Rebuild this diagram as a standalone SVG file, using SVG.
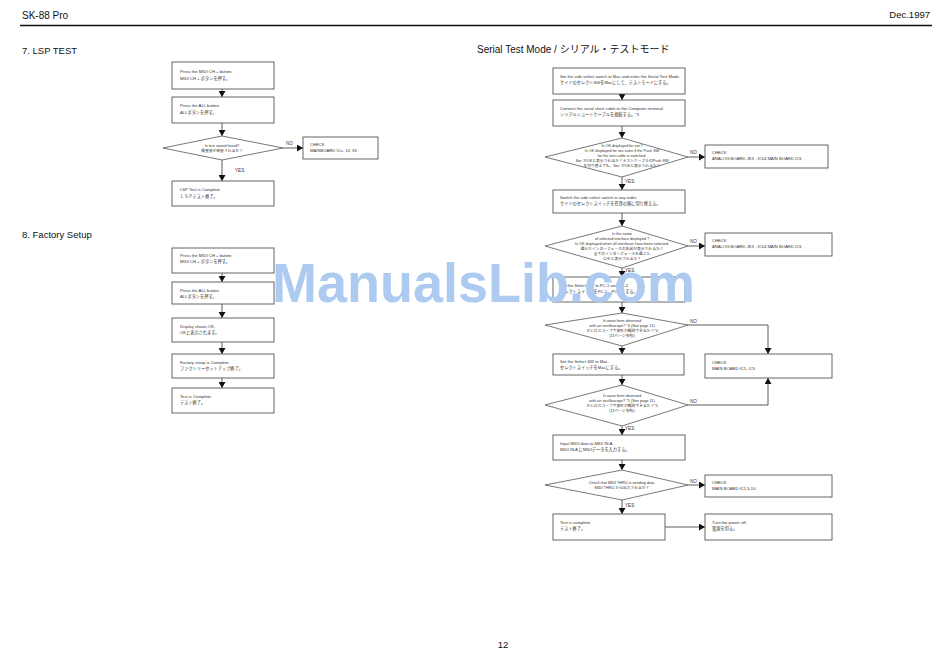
<svg xmlns="http://www.w3.org/2000/svg" width="950" height="671" viewBox="0 0 950 671">
<style>
.bg{fill:#fff}
.box{fill:#fff;stroke:#555;stroke-width:0.9}
.dia{fill:#fff;stroke:#555;stroke-width:0.8}
.t{font-family:"Liberation Sans","Noto Sans CJK JP",sans-serif;font-size:4.2px;fill:#333}
.d{font-family:"Liberation Sans","Noto Sans CJK JP",sans-serif;font-size:3.8px;fill:#333;text-anchor:middle}
.lbl{font-family:"Liberation Sans",sans-serif;font-size:4.6px;fill:#333}
.h{font-family:"Liberation Sans","Noto Sans CJK JP",sans-serif;fill:#111}
.ln{stroke:#333;stroke-width:0.8;fill:none}
.wm{font-family:"Liberation Sans",sans-serif;font-weight:bold;font-size:56px;fill:#adcaf0}
</style>
<defs>
<marker id="ah" markerUnits="userSpaceOnUse" markerWidth="7" markerHeight="7" refX="6" refY="3.5" orient="auto">
<path d="M0,0 L6,3.5 L0,7 z" fill="#111"/>
</marker>
</defs>
<rect class="bg" x="0" y="0" width="950" height="671"/>

<g id="header">
<text class="h" x="22" y="19" font-size="10">SK-88 Pro</text>
<text class="h" x="930" y="18" font-size="9.5" text-anchor="end">Dec.1997</text>
<line x1="20" y1="25.5" x2="932" y2="25.5" stroke="#111" stroke-width="1.6"/>
<text class="h" x="22" y="54" font-size="9.5">7. LSP TEST</text>
<text class="h" x="22" y="238" font-size="9.5">8. Factory Setup</text>
<text class="h" x="477" y="53" font-size="10">Serial Test Mode / シリアル・テストモード</text>
<text class="h" x="503" y="648" font-size="9.5" text-anchor="middle">12</text>
</g>

<g id="connectors">
<line class="ln" x1="222" y1="89" x2="222" y2="97" marker-end="url(#ah)"/>
<line class="ln" x1="222" y1="123" x2="222" y2="136" marker-end="url(#ah)"/>
<line class="ln" x1="283" y1="148" x2="303" y2="148" marker-end="url(#ah)"/>
<line class="ln" x1="222" y1="160" x2="222" y2="181" marker-end="url(#ah)"/>
<line class="ln" x1="222" y1="273" x2="222" y2="282" marker-end="url(#ah)"/>
<line class="ln" x1="222" y1="304" x2="222" y2="318" marker-end="url(#ah)"/>
<line class="ln" x1="222" y1="342" x2="222" y2="354" marker-end="url(#ah)"/>
<line class="ln" x1="222" y1="378" x2="222" y2="388" marker-end="url(#ah)"/>
<line class="ln" x1="622" y1="94" x2="622" y2="100" marker-end="url(#ah)"/>
<line class="ln" x1="622" y1="126" x2="622" y2="138" marker-end="url(#ah)"/>
<line class="ln" x1="688" y1="157" x2="705" y2="157" marker-end="url(#ah)"/>
<line class="ln" x1="622" y1="177" x2="622" y2="190" marker-end="url(#ah)"/>
<line class="ln" x1="622" y1="213" x2="622" y2="226" marker-end="url(#ah)"/>
<line class="ln" x1="688" y1="246" x2="705" y2="246" marker-end="url(#ah)"/>
<line class="ln" x1="622" y1="268" x2="622" y2="277" marker-end="url(#ah)"/>
<line class="ln" x1="622" y1="302" x2="622" y2="313" marker-end="url(#ah)"/>
<polyline class="ln" points="688,325 768,325 768,354" marker-end="url(#ah)"/>
<line class="ln" x1="622" y1="346" x2="622" y2="354" marker-end="url(#ah)"/>
<line class="ln" x1="622" y1="375" x2="622" y2="385" marker-end="url(#ah)"/>
<polyline class="ln" points="688,405 768,405 768,378" marker-end="url(#ah)"/>
<line class="ln" x1="622" y1="426" x2="622" y2="435" marker-end="url(#ah)"/>
<line class="ln" x1="622" y1="460" x2="622" y2="470" marker-end="url(#ah)"/>
<line class="ln" x1="688" y1="485" x2="705" y2="485" marker-end="url(#ah)"/>
<line class="ln" x1="622" y1="500" x2="622" y2="514" marker-end="url(#ah)"/>
<line class="ln" x1="665" y1="527" x2="705" y2="527" marker-end="url(#ah)"/>
<text class="lbl" x="286" y="145">NO</text>
<text class="lbl" x="235" y="172">YES</text>
<text class="lbl" x="690" y="154">NO</text>
<text class="lbl" x="625" y="183">YES</text>
<text class="lbl" x="690" y="243">NO</text>
<text class="lbl" x="625" y="272">YES</text>
<text class="lbl" x="690" y="323">NO</text>
<text class="lbl" x="690" y="403">NO</text>
<text class="lbl" x="625" y="430">YES</text>
<text class="lbl" x="690" y="483">NO</text>
<text class="lbl" x="625" y="507">YES</text>
</g>

<g id="lsp1"><rect class="box" x="172" y="62" width="102" height="27"/>
<text class="t" x="180" y="72.5">Press the MIDI CH + button.</text>
<text class="t" x="180" y="79.5">MIDI CH + ボタンを押す。</text></g>
<g id="lsp2"><rect class="box" x="172" y="97" width="102" height="26"/>
<text class="t" x="180" y="107">Press the ALL button.</text>
<text class="t" x="180" y="114">ALLボタンを押す。</text></g>
<g id="lsp3"><polygon class="dia" points="222,136 283,148 222,160 163,148"/>
<text class="d" x="222" y="146.5">Is test sound heard?</text>
<text class="d" x="222" y="152">検査音が発音されるか？</text></g>
<g id="lsp4"><rect class="box" x="303" y="137" width="75" height="22"/>
<text class="t" x="310" y="145.5">CHECK</text>
<text class="t" x="310" y="151.5">MAINBOARD ICs. 13, 35</text></g>
<g id="lsp5"><rect class="box" x="172" y="181" width="102" height="25"/>
<text class="t" x="180" y="191">LSP Test is Complete.</text>
<text class="t" x="180" y="198">ＬＳＰテスト終了。</text></g>

<g id="fs1"><rect class="box" x="172" y="248" width="102" height="25"/>
<text class="t" x="180" y="256.5">Press the MIDI CH + button.</text>
<text class="t" x="180" y="262.5">MIDI CH + ボタンを押す。</text></g>
<g id="fs2"><rect class="box" x="172" y="282" width="102" height="22"/>
<text class="t" x="180" y="291.5">Press the ALL button.</text>
<text class="t" x="180" y="297.5">ALLボタンを押す。</text></g>
<g id="fs3"><rect class="box" x="172" y="318" width="102" height="24"/>
<text class="t" x="180" y="327.5">Display shows OK.</text>
<text class="t" x="180" y="333.5">OKと表示されます。</text></g>
<g id="fs4"><rect class="box" x="172" y="354" width="102" height="24"/>
<text class="t" x="180" y="363.5">Factory setup is Complete.</text>
<text class="t" x="180" y="369.5">ファクトリーセットアップ終了。</text></g>
<g id="fs5"><rect class="box" x="172" y="388" width="102" height="25"/>
<text class="t" x="180" y="398">Test is Complete.</text>
<text class="t" x="180" y="404">テスト終了。</text></g>

<g id="s1"><rect class="box" x="553" y="68" width="132" height="26"/>
<text class="t" x="560" y="78">Set the side select switch to Mac and enter the Serial Test Mode.</text>
<text class="t" x="560" y="84">サイドのセレクトSWをMacにして、テストモードにする。</text></g>
<g id="s2"><rect class="box" x="553" y="100" width="132" height="26"/>
<text class="t" x="560" y="110">Connect the serial short cable to the Computer terminal.</text>
<text class="t" x="560" y="116">シリアルショートケーブルを接続する。*3</text></g>
<g id="s3"><polygon class="dia" points="622,138 688,157 622,177 545,157"/>
<text class="d" x="622" y="147">Is OK displayed for sec?</text>
<text class="d" x="622" y="152">Is OK displayed for sec even if the Push SW</text>
<text class="d" x="622" y="157">for the test cable is switched.</text>
<text class="d" x="622" y="162">Sec がOKと表示されるか？テストケーブルのPush SW</text>
<text class="d" x="622" y="167">を切り替えても、Sec がOKと表示されるか？</text></g>
<g id="s4"><rect class="box" x="705" y="145" width="123" height="23"/>
<text class="t" x="712" y="154">CHECK</text>
<text class="t" x="712" y="160">ANALOG BOARD JK3 , IC54 MAIN BOARD IC5</text></g>
<g id="s5"><rect class="box" x="553" y="190" width="132" height="23"/>
<text class="t" x="560" y="199">Switch the side select switch in any order.</text>
<text class="t" x="560" y="205">サイドのセレクトスイッチを任意の順に切り替える。</text></g>
<g id="s6"><polygon class="dia" points="622,226 688,246 622,268 545,246"/>
<text class="d" x="622" y="235">Is the name</text>
<text class="d" x="622" y="240">of selected interface displayed ?</text>
<text class="d" x="622" y="245">Is OK displayed when all interfaces have been selected.</text>
<text class="d" x="622" y="250">選んだインターフェースの名前が表示されるか？</text>
<text class="d" x="622" y="255">全てのインターフェースを選ぶと</text>
<text class="d" x="622" y="260">ＯＫと表示されるか？</text></g>
<g id="s7"><rect class="box" x="705" y="233" width="127" height="23"/>
<text class="t" x="712" y="242">CHECK</text>
<text class="t" x="712" y="248">ANALOG BOARD JK3 , IC54 MAIN BOARD IC5</text></g>
<g id="s8"><rect class="box" x="553" y="277" width="132" height="25"/>
<text class="t" x="560" y="287">Set the Select SW to PC-1 and PC-2.</text>
<text class="t" x="560" y="293">セレクトスイッチをPC-1、PC-2にする。</text></g>
<g id="s9"><polygon class="dia" points="622,313 688,325 622,346 545,325"/>
<text class="d" x="622" y="322">Is wave form observed</text>
<text class="d" x="622" y="327">with an oscilloscope? *4 (See page 11)</text>
<text class="d" x="622" y="332">オシロスコープで波形が観測できるか？*4</text>
<text class="d" x="622" y="337">(11ページ参照)</text></g>
<g id="s10"><rect class="box" x="553" y="354" width="131" height="21"/>
<text class="t" x="560" y="362.5">Set the Select SW to Mac.</text>
<text class="t" x="560" y="368.5">セレクトスイッチをMacにする。</text></g>
<g id="s11"><rect class="box" x="705" y="354" width="127" height="24"/>
<text class="t" x="712" y="363.5">CHECK</text>
<text class="t" x="712" y="369.5">MAIN BOARD IC1, IC5</text></g>
<g id="s12"><polygon class="dia" points="622,385 688,405 622,426 545,405"/>
<text class="d" x="622" y="397">Is wave form observed</text>
<text class="d" x="622" y="402">with an oscilloscope? *5 (See page 11)</text>
<text class="d" x="622" y="407">オシロスコープで波形が観測できるか？*5</text>
<text class="d" x="622" y="412">(11ページ参照)</text></g>
<g id="s13"><rect class="box" x="553" y="435" width="132" height="25"/>
<text class="t" x="560" y="445">Input MIDI data to MIDI IN A.</text>
<text class="t" x="560" y="451">MIDI IN A にMIDIデータを入力する。</text></g>
<g id="s14"><polygon class="dia" points="622,470 688,485 622,500 545,485"/>
<text class="d" x="622" y="483.5">Check that MIDI THRU is sending data.</text>
<text class="d" x="622" y="489">MIDI THRU から出力されるか？</text></g>
<g id="s15"><rect class="box" x="705" y="475" width="127" height="22"/>
<text class="t" x="712" y="484">CHECK</text>
<text class="t" x="712" y="490">MAIN BOARD IC1,5,10</text></g>
<g id="s16"><rect class="box" x="553" y="514" width="112" height="26"/>
<text class="t" x="560" y="524">Test is complete.</text>
<text class="t" x="560" y="530">テスト終了。</text></g>
<g id="s17"><rect class="box" x="705" y="514" width="127" height="26"/>
<text class="t" x="712" y="524">Turn the power off.</text>
<text class="t" x="712" y="530">電源を切る。</text></g>

<g id="watermark">
<text class="wm" x="272" y="302" textLength="423" lengthAdjust="spacingAndGlyphs">ManualsLib.com</text>
</g>
</svg>
